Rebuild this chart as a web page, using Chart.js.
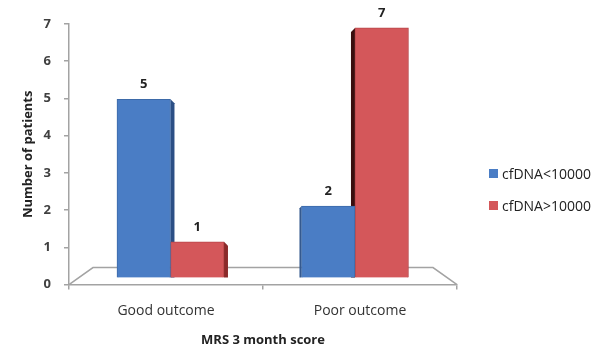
<!DOCTYPE html>
<html>
<head>
<meta charset="utf-8">
<script src="https://cdn.jsdelivr.net/npm/chart.js@4.4.1/dist/chart.umd.min.js"></script>
<style>
  html, body { margin: 0; padding: 0; background: #fff; }
  #wrap { position: relative; width: 613px; height: 350px; }
  #legend { position: absolute; left: 489px; top: 157px; font: 14px "Open Sans", sans-serif; color: #222; }
  #legend .item { display: flex; align-items: center; height: 32px; white-space: nowrap; }
  #legend .swatch { width: 9px; height: 9px; margin-right: 4px; }
</style>
</head>
<body>
<div id="wrap">
  <canvas id="chart" width="613" height="350"></canvas>
  <div id="legend"></div>
</div>
<script>
// Patients per outcome group, split by cfDNA level
const categories = ['Good outcome', 'Poor outcome'];
const seriesNames = ['cfDNA<10000', 'cfDNA>10000'];
const lowCfDNA = [5, 2];
const highCfDNA = [1, 7];
const yTickValues = [0, 1, 2, 3, 4, 5, 6, 7];

const FRONT = ['#4a7dc5', '#d4575a'];
const EDGE = ['#3d6aa8', '#b8474a'];
const SIDE_RIGHT = ['#2b4f85', '#8a2a2a'];
const SIDE_LEFT = ['#34598f', '#3a0d0d'];
const AXIS = '#a3a3a3';
const FONT = '"Open Sans", sans-serif';

// bars sit on a linear index axis so each group can be placed inside the floor
const toPoints = values => values.map((v, i) => ({ x: i, y: v }));

// floor outline and the visible side faces of the columns
const depthPlugin = {
  id: 'depth',
  beforeDatasetsDraw(chart) {
    const { ctx, chartArea: a, scales } = chart;
    const y0 = scales.y.getPixelForValue(0);
    const dx = 24, dy = 17;
    ctx.save();
    ctx.strokeStyle = AXIS;
    ctx.lineWidth = 1.5;
    ctx.beginPath();
    ctx.moveTo(a.left, y0);
    ctx.lineTo(a.left + dx, y0 - dy);
    ctx.lineTo(a.right - dx, y0 - dy);
    ctx.lineTo(a.right, y0);
    ctx.stroke();

    chart.data.datasets.forEach((ds, d) => {
      const meta = chart.getDatasetMeta(d);
      meta.data.forEach((el, i) => {
        const p = el.getProps(['x', 'y', 'base', 'width'], true);
        const half = p.width / 2;
        ctx.beginPath();
        if (i === 0) {
          const r = p.x + half;
          ctx.moveTo(r, p.y);
          ctx.lineTo(r + 4, p.y + 4);
          ctx.lineTo(r + 4, p.base);
          ctx.lineTo(r, p.base);
          ctx.fillStyle = SIDE_RIGHT[d];
        } else {
          const l = p.x - half;
          const w = d === 0 ? 2 : 4;
          ctx.moveTo(l, p.y);
          ctx.lineTo(l - w, p.y + w);
          ctx.lineTo(l - w, p.base);
          ctx.lineTo(l, p.base);
          ctx.fillStyle = SIDE_LEFT[d];
        }
        ctx.closePath();
        ctx.fill();
      });
    });
    ctx.restore();
  }
};

// value printed above each column
const valueLabels = {
  id: 'valueLabels',
  afterDatasetsDraw(chart) {
    const { ctx } = chart;
    ctx.save();
    ctx.font = 'bold 13px ' + FONT;
    ctx.fillStyle = '#222';
    ctx.textAlign = 'center';
    ctx.textBaseline = 'middle';
    chart.data.datasets.forEach((ds, d) => {
      chart.getDatasetMeta(d).data.forEach((el, i) => {
        const p = el.getProps(['x', 'y'], true);
        ctx.fillText(String(ds.data[i].y), p.x, p.y - 15);
      });
    });
    ctx.restore();
  }
};

// legend rendered as HTML next to the plot
const htmlLegend = {
  id: 'htmlLegend',
  afterUpdate(chart) {
    const box = document.getElementById('legend');
    box.innerHTML = '';
    const items = Chart.defaults.plugins.legend.labels.generateLabels(chart);
    items.forEach(item => {
      const row = document.createElement('div');
      row.className = 'item';
      const sw = document.createElement('span');
      sw.className = 'swatch';
      sw.style.background = item.fillStyle;
      const txt = document.createElement('span');
      txt.textContent = item.text;
      row.appendChild(sw);
      row.appendChild(txt);
      box.appendChild(row);
    });
  }
};

const datasets = [lowCfDNA, highCfDNA].map((values, d) => ({
  label: seriesNames[d],
  data: toPoints(values),
  backgroundColor: FRONT[d],
  borderColor: EDGE[d],
  borderWidth: 1,
  barThickness: 53.5,
  xAxisID: 'xb',
  yAxisID: 'yb'
}));

new Chart(document.getElementById('chart'), {
  type: 'bar',
  data: { labels: categories, datasets },
  options: {
    responsive: false,
    devicePixelRatio: 1,
    animation: false,
    layout: { padding: { left: 10, right: 156, top: 24, bottom: 0 } },
    plugins: {
      legend: { display: false },
      tooltip: { enabled: false }
    },
    scales: {
      x: {
        type: 'category',
        offset: true,
        grid: { offset: true, drawOnChartArea: false, drawTicks: true, tickLength: 5, color: AXIS, lineWidth: 1.5 },
        border: { display: true, color: AXIS, width: 1.5 },
        ticks: { color: '#333', font: { family: FONT, size: 14 }, padding: 13 },
        title: { display: true, text: 'MRS 3 month score', color: '#222', font: { family: FONT, size: 13, weight: 'bold' }, padding: { top: 0, bottom: 2 } }
      },
      y: {
        type: 'linear',
        min: 0,
        max: 7,
        afterBuildTicks: s => { s.ticks = yTickValues.map(v => ({ value: v })); },
        afterFit: s => { s.width = 59; },
        grid: { drawOnChartArea: false, drawTicks: true, tickLength: 5, color: AXIS, lineWidth: 1.5 },
        border: { display: true, color: AXIS, width: 1.5 },
        ticks: { color: '#404040', font: { family: FONT, size: 13, weight: 'bold' }, padding: 13 },
        title: { display: true, text: 'Number of patients', color: '#222', font: { family: FONT, size: 13, weight: 'bold' }, padding: { top: 10, bottom: 0 } }
      },
      xb: {
        type: 'linear',
        display: false,
        offset: false,
        min: -0.55,
        max: 1.553
      },
      yb: {
        type: 'linear',
        display: false,
        min: -0.2,
        max: 7.11
      }
    }
  },
  plugins: [depthPlugin, valueLabels, htmlLegend]
});
</script>
</body>
</html>
